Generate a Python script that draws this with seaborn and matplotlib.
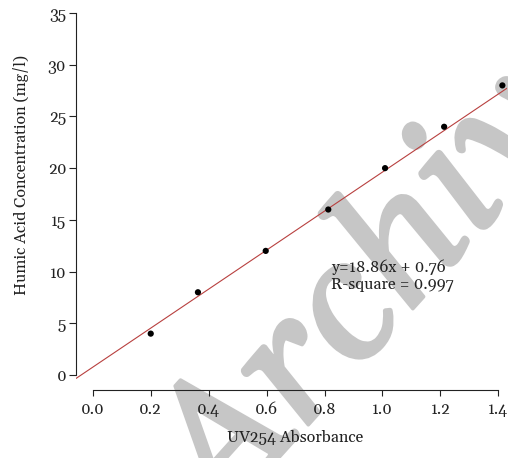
import numpy as np
import pandas as pd
import matplotlib
matplotlib.use("Agg")
import matplotlib.pyplot as plt
import matplotlib.patheffects as pe
from matplotlib.font_manager import FontProperties
import seaborn as sns

# ---- data ----
absorbance = [0.200, 0.363, 0.597, 0.813, 1.009, 1.213, 1.414]
concentration = [4, 8, 12, 16, 20, 24, 28]
slope = 18.86
intercept = 0.76
r_square = 0.997
x_ticks = [0.0, 0.2, 0.4, 0.6, 0.8, 1.0, 1.2, 1.4]
y_ticks = [0, 5, 10, 15, 20, 25, 30, 35]
x_label = "UV254 Absorbance"
y_label = "Humic Acid Concentration (mg/l)"
watermark = "Archive"

sns.set_theme(style="ticks")
plt.rcParams["font.family"] = ["Gelasio", "DejaVu Serif", "DejaVu Sans"]
FS = 11.5
TXT = "#222222"

W, H = 508, 458
fig = plt.figure(figsize=(W / 100, H / 100), dpi=100)
ax = fig.add_axes([76 / W, 68 / H, 431 / W, 380.1 / H])
ax.set_facecolor("none")

xlim = (-0.058, 1.43)
ylim = (-1.45, 35.3)

df = pd.DataFrame({"x": absorbance, "y": concentration})
fit_x = np.array(xlim)
fit = pd.DataFrame({"x": fit_x, "y": slope * fit_x + intercept})

sns.lineplot(data=fit, x="x", y="y", ax=ax, color="#b8403f", linewidth=0.8, zorder=2)
sns.scatterplot(data=df, x="x", y="y", ax=ax, color="black", s=20,
                edgecolor="none", zorder=3)

ax.set_xlim(*xlim)
ax.set_ylim(*ylim)
ax.set_xticks(x_ticks)
ax.set_xticklabels([f"{v:.1f}" for v in x_ticks])
ax.set_yticks(y_ticks)
ax.set_yticklabels([str(v) for v in y_ticks])

for s in ["top", "right"]:
    ax.spines[s].set_visible(False)
ax.spines["left"].set_bounds(y_ticks[0], y_ticks[-1])
ax.spines["bottom"].set_bounds(x_ticks[0], x_ticks[-1])
for s in ["left", "bottom"]:
    ax.spines[s].set_color(TXT)
    ax.spines[s].set_linewidth(0.8)

ax.tick_params(axis="y", length=5, width=0.8, pad=2, labelsize=FS, colors=TXT)
ax.tick_params(axis="x", length=4.5, width=0.8, pad=4, labelsize=FS, colors=TXT)

ax.set_xlabel(x_label, fontsize=FS, color=TXT)
ax.set_ylabel(y_label, fontsize=FS, color=TXT)
ax.xaxis.set_label_coords(0.508, -0.105)
ax.yaxis.set_label_coords(-0.11, 0.566)

ax.text(0.822, 9.6, f"y={slope}x + {intercept}\nR-square = {r_square}",
        ha="left", va="center", fontsize=FS, color=TXT, linespacing=1.1)

wm_font = FontProperties(family=["Gelasio", "Liberation Serif"], style="italic",
                         weight="bold", size=128)
ax.text(390 / W, 1 - 262 / H, watermark, transform=fig.transFigure,
        ha="center", va="center", rotation=48, rotation_mode="anchor",
        fontproperties=wm_font, color="#c6c6c6", zorder=0.5, clip_on=False,
        path_effects=[pe.withStroke(linewidth=2.5, foreground="#c6c6c6")])

fig.savefig("out.png", dpi=100)
